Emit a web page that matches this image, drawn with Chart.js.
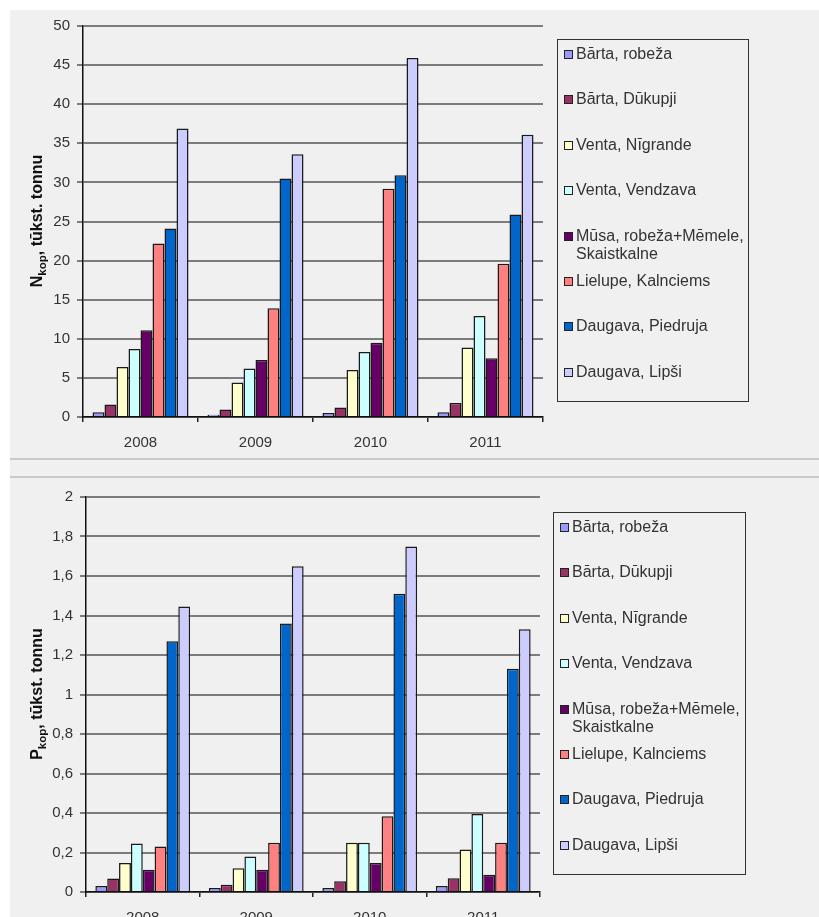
<!DOCTYPE html>
<html>
<head>
<meta charset="utf-8">
<script src="https://cdn.jsdelivr.net/npm/chart.js@4.4.1/dist/chart.umd.min.js"></script>
<style>
body { margin: 0; width: 819px; height: 917px; overflow: hidden; background: #fff; font-family: "Liberation Sans", Arial, sans-serif; }
#bg { position: absolute; left: 10px; top: 10px; width: 809px; height: 907px; background: #f0f0f0; }
.sep { position: absolute; left: 10px; width: 809px; height: 2px; background: #cacaca; }
canvas { position: absolute; left: 10px; }
.ytitle { position: absolute; font-weight: bold; font-size: 16px; color: #111; white-space: nowrap;
  transform: translate(-50%, -50%) rotate(-90deg); }
.ytitle sub { font-size: 0.72em; }
.legend { position: absolute; border: 1.5px solid #333; box-sizing: border-box; }
.item { position: absolute; left: 18px; width: 172px; font-size: 16px; line-height: 18px; color: #333; }
.sw { position: absolute; left: -12px; top: 5px; width: 9px; height: 9px; border: 1px solid #222; box-sizing: border-box; }
</style>
</head>
<body>
<div id="bg"></div>
<div class="sep" style="top:458px"></div>
<div class="sep" style="top:476px"></div>

<canvas id="nChart" width="809" height="449" style="top:10px"></canvas>
<canvas id="pChart" width="809" height="470" style="top:479px"></canvas>

<div class="ytitle" style="left:38px; top:221px">N<sub>kop</sub>, tūkst. tonnu</div>
<div class="ytitle" style="left:38px; top:694px">P<sub>kop</sub>, tūkst. tonnu</div>

<div id="nLegend" class="legend" style="left:557px; top:39px; width:192px; height:363px"></div>
<div id="pLegend" class="legend" style="left:553px; top:512px; width:193px; height:363px"></div>

<script>
const years = ['2008', '2009', '2010', '2011'];

const stations = [
  'Bārta, robeža',
  'Bārta, Dūkupji',
  'Venta, Nīgrande',
  'Venta, Vendzava',
  'Mūsa, robeža+Mēmele, Skaistkalne',
  'Lielupe, Kalnciems',
  'Daugava, Piedruja',
  'Daugava, Lipši'
];

const colors = ['#9999FF', '#993366', '#FFFFCC', '#CCFFFF', '#660066', '#FF8080', '#0066CC', '#CCCCFF'];

// N kop, thousand tonnes (one array per station, by year)
const nBartaRobeza = [0.6, 0.3, 0.5, 0.6];
const nBartaDukupji = [1.6, 0.95, 1.2, 1.8];
const nVentaNigrande = [6.4, 4.4, 6.0, 8.9];
const nVentaVendzava = [8.7, 6.2, 8.3, 12.9];
const nMusa = [11.1, 7.3, 9.5, 7.5];
const nLielupe = [22.2, 13.9, 29.2, 19.6];
const nDaugavaPiedruja = [24.1, 30.5, 30.9, 25.9];
const nDaugavaLipsi = [36.9, 33.6, 45.9, 36.1];

// P kop, thousand tonnes
const pBartaRobeza = [0.03, 0.02, 0.02, 0.03];
const pBartaDukupji = [0.068, 0.037, 0.054, 0.069];
const pVentaNigrande = [0.147, 0.12, 0.25, 0.215];
const pVentaVendzava = [0.245, 0.18, 0.25, 0.395];
const pMusa = [0.113, 0.113, 0.147, 0.087];
const pLielupe = [0.23, 0.25, 0.383, 0.25];
const pDaugavaPiedruja = [1.27, 1.36, 1.51, 1.13];
const pDaugavaLipsi = [1.445, 1.65, 1.75, 1.33];

const nTicks = [0, 5, 10, 15, 20, 25, 30, 35, 40, 45, 50];
const nTickLabels = ['0', '5', '10', '15', '20', '25', '30', '35', '40', '45', '50'];
const pTicks = [0, 0.2, 0.4, 0.6, 0.8, 1, 1.2, 1.4, 1.6, 1.8, 2];
const pTickLabels = ['0', '0,2', '0,4', '0,6', '0,8', '1', '1,2', '1,4', '1,6', '1,8', '2'];

const nSeries = [nBartaRobeza, nBartaDukupji, nVentaNigrande, nVentaVendzava, nMusa, nLielupe, nDaugavaPiedruja, nDaugavaLipsi];
const pSeries = [pBartaRobeza, pBartaDukupji, pVentaNigrande, pVentaVendzava, pMusa, pLielupe, pDaugavaPiedruja, pDaugavaLipsi];

const makeDatasets = (series) => series.map((vals, i) => ({
  label: stations[i],
  data: vals,
  backgroundColor: colors[i],
  borderColor: '#1a1a1a',
  borderWidth: 1.5,
  categoryPercentage: 0.835,
  barPercentage: 1
}));

function renderChart(canvasId, series, ticks, tickLabels, box) {
  return new Chart(document.getElementById(canvasId), {
    type: 'bar',
    data: { labels: years, datasets: makeDatasets(series) },
    options: {
      responsive: false,
      animation: false,
      layout: { padding: { left: 0, top: box.top, right: box.right, bottom: 0 } },
      plugins: { legend: { display: false }, tooltip: { enabled: false } },
      scales: {
        x: {
          grid: { display: true, drawOnChartArea: false, drawTicks: true, tickLength: 5, color: '#222', lineWidth: 1.5 },
          border: { color: '#111', width: 1.5 },
          ticks: { color: '#333', font: { family: 'Liberation Sans', size: 15 }, padding: 12 },
          afterFit: (s) => { s.height = box.xHeight; s.paddingLeft = 0; s.paddingRight = 0; }
        },
        y: {
          min: ticks[0],
          max: ticks[ticks.length - 1],
          afterBuildTicks: (s) => { s.ticks = ticks.map(v => ({ value: v })); },
          grid: { color: '#7c7c7c', lineWidth: 2, tickLength: 6 },
          border: { color: '#111', width: 1.5 },
          ticks: {
            color: '#333',
            font: { family: 'Liberation Sans', size: 15 },
            padding: 7,
            callback: (v) => tickLabels[ticks.indexOf(v)]
          },
          afterFit: (s) => { s.width = box.yWidth; s.paddingTop = 0; s.paddingBottom = 0; }
        }
      }
    }
  });
}

function buildLegend(chart, el) {
  chart.data.datasets.forEach((ds, i) => {
    const item = document.createElement('div');
    item.className = 'item';
    item.style.top = (5 + i * 45.4) + 'px';
    const sw = document.createElement('span');
    sw.className = 'sw';
    sw.style.background = ds.backgroundColor;
    item.appendChild(sw);
    item.appendChild(document.createTextNode(ds.label));
    el.appendChild(item);
  });
}

const nChart = renderChart('nChart', nSeries, nTicks, nTickLabels, { top: 16, right: 276, xHeight: 42, yWidth: 73 });
const pChart = renderChart('pChart', pSeries, pTicks, pTickLabels, { top: 18, right: 279, xHeight: 57, yWidth: 76 });

buildLegend(nChart, document.getElementById('nLegend'));
buildLegend(pChart, document.getElementById('pLegend'));
</script>
</body>
</html>
